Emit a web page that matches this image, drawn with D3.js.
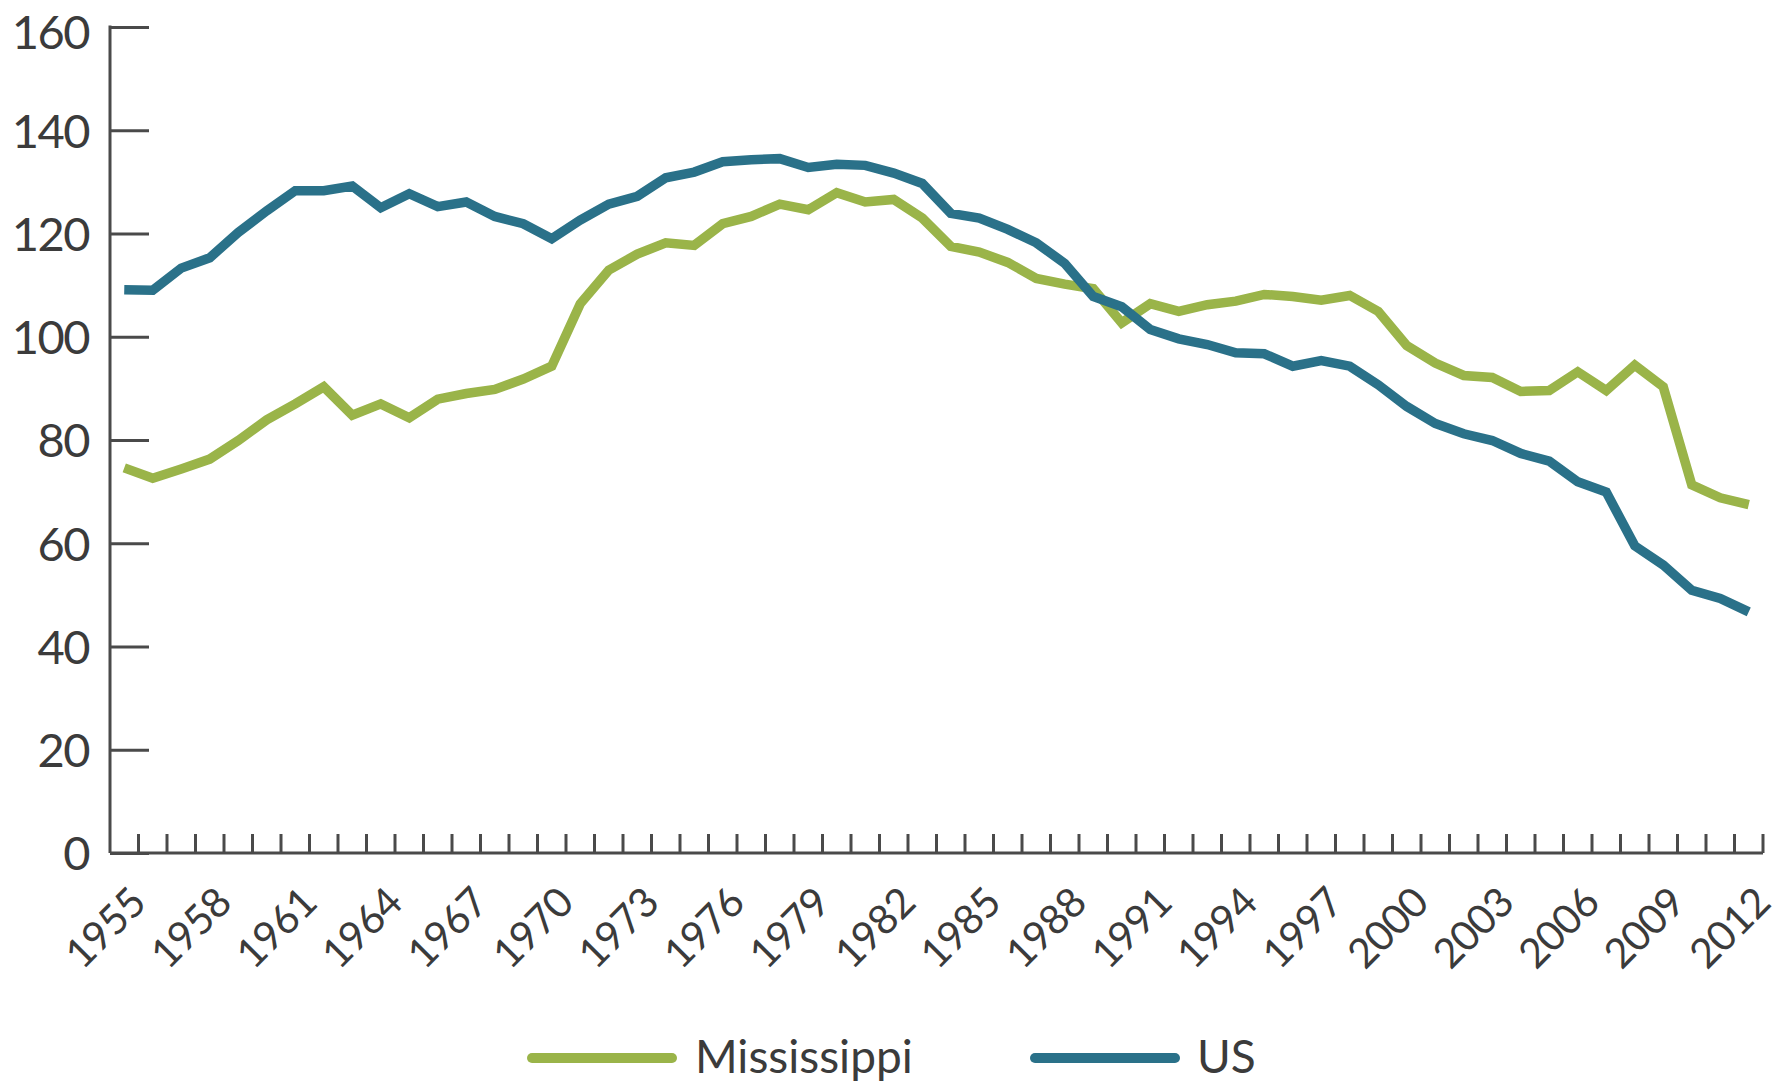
<!DOCTYPE html>
<html>
<head>
<meta charset="utf-8">
<script src="https://cdn.jsdelivr.net/npm/d3@7"></script>
<style>
    body { margin: 0; background: #fff; }
    svg { display: block; }
    text { font-family: Lato, "Noto Sans", sans-serif; fill: #3b3b3b; }
</style>
</head>
<body>
<svg width="1792" height="1086"></svg>
<script>
const years = d3.range(1955, 2013);

const mississippi = [
    74.6, 72.6, 74.4, 76.3, 79.9, 83.9, 87.0, 90.3, 84.8, 87.0,
    84.3, 87.9, 89.0, 89.8, 91.8, 94.3, 106.4, 112.9, 116.0, 118.2,
    117.7, 121.9, 123.3, 125.7, 124.6, 127.9, 126.1, 126.6, 123.0, 117.5,
    116.4, 114.4, 111.3, 110.2, 109.3, 102.7, 106.4, 104.9, 106.2, 106.9,
    108.2, 107.8, 107.1, 108.0, 104.9, 98.3, 94.9, 92.5, 92.1, 89.4,
    89.6, 93.2, 89.6, 94.5, 90.3, 71.3, 68.8, 67.5
];

const us = [
    109.1, 109.0, 113.3, 115.3, 120.2, 124.4, 128.3, 128.3, 129.2, 125.0,
    127.7, 125.2, 126.1, 123.3, 121.9, 119.0, 122.6, 125.7, 127.2, 130.8,
    131.9, 133.9, 134.3, 134.5, 132.8, 133.4, 133.2, 131.7, 129.7, 123.9,
    123.0, 120.8, 118.2, 114.2, 107.8, 105.8, 101.4, 99.6, 98.5, 96.9,
    96.7, 94.3, 95.4, 94.3, 90.7, 86.5, 83.2, 81.2, 79.9, 77.4,
    75.9, 71.9, 69.9, 59.5, 55.8, 50.9, 49.3, 46.7
];

const yTicks = [0, 20, 40, 60, 80, 100, 120, 140, 160];
const xLabels = years.filter(y => (y - 1955) % 3 === 0);

const series = [
    {name: 'Mississippi', values: mississippi, color: '#9ab449'},
    {name: 'US', values: us, color: '#2a7189'}
];

const svg = d3.select('svg');
const axisColor = '#4a4a4a';

const x = d3.scaleBand().domain(years).range([110, 1763]);
const y = d3.scaleLinear().domain([0, 160]).range([853, 27]);

// y axis, ticks pointing inward
const yAxis = svg.append('g')
    .attr('transform', `translate(${x.range()[0]},0)`)
    .call(d3.axisRight(y).tickValues(yTicks).tickSize(39).tickFormat(''));
yAxis.select('.domain').remove();
yAxis.selectAll('line').attr('stroke', axisColor).attr('stroke-width', 3);

svg.append('line')
    .attr('x1', 110).attr('x2', 110)
    .attr('y1', y(160) - 1.5).attr('y2', y(0))
    .attr('stroke', axisColor).attr('stroke-width', 3);

svg.selectAll('.ylab')
    .data(yTicks).enter()
    .append('text')
    .attr('class', 'ylab')
    .attr('x', 89)
    .attr('y', d => y(d))
    .attr('dy', d => d === 160 ? '0.46em' : '0.37em')
    .attr('text-anchor', 'end')
    .attr('font-size', 47)
    .attr('letter-spacing', -1.5)
    .text(d => d);

// x axis with a tick at every year boundary
svg.append('line')
    .attr('x1', 110).attr('x2', x.range()[1])
    .attr('y1', y(0)).attr('y2', y(0))
    .attr('stroke', axisColor).attr('stroke-width', 3);

svg.selectAll('.xtick')
    .data(years).enter()
    .append('line')
    .attr('class', 'xtick')
    .attr('x1', d => x(d) + x.bandwidth())
    .attr('x2', d => x(d) + x.bandwidth())
    .attr('y1', y(0))
    .attr('y2', y(0) - 19)
    .attr('stroke', axisColor)
    .attr('stroke-width', 3);

svg.selectAll('.xlab')
    .data(xLabels).enter()
    .append('text')
    .attr('class', 'xlab')
    .attr('text-anchor', 'end')
    .attr('font-size', 41)
    .attr('letter-spacing', -0.5)
    .attr('transform', d => `translate(${x(d) + x.bandwidth() / 2 + 24},${y(0) + 52}) rotate(-45)`)
    .text(d => d);

// lines
const line = d3.line()
    .x((d, i) => x(years[i]) + x.bandwidth() / 2)
    .y(d => y(d));

series.forEach(s => {
    svg.append('path')
        .attr('d', line(s.values))
        .attr('fill', 'none')
        .attr('stroke', s.color)
        .attr('stroke-width', 9.5)
        .attr('stroke-linejoin', 'miter');
});

// legend
const legendPos = [{x: 532, tx: 695}, {x: 1035, tx: 1197}];
series.forEach((s, i) => {
    const p = legendPos[i];
    svg.append('line')
        .attr('x1', p.x).attr('x2', p.x + 140)
        .attr('y1', 1058).attr('y2', 1058)
        .attr('stroke', s.color)
        .attr('stroke-width', 10)
        .attr('stroke-linecap', 'round');
    svg.append('text')
        .attr('x', p.tx)
        .attr('y', 1073)
        .attr('font-size', 46)
        .text(s.name);
});
</script>
</body>
</html>
